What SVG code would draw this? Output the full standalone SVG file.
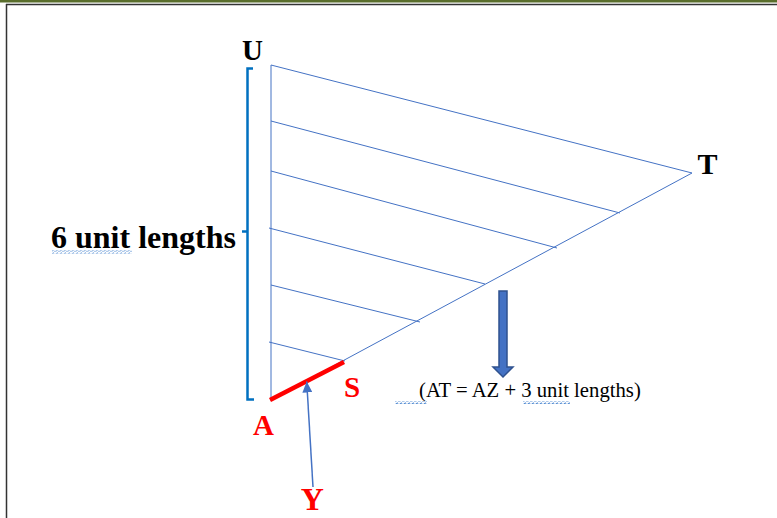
<svg xmlns="http://www.w3.org/2000/svg" width="777" height="518" viewBox="0 0 777 518">
<style>
.thin{stroke:#4472C4;stroke-width:1;fill:none}
.lbl{font-family:"Liberation Serif","Times New Roman",serif;font-weight:bold}
.blk{fill:#000}
.red{fill:#FF0000}
.note{font-family:"Liberation Serif","Times New Roman",serif;font-size:20.7px;fill:#000}
</style>
<defs>
<pattern id="wave" width="4" height="3" patternUnits="userSpaceOnUse">
<path d="M0 2.5 Q1 -0.5 2 1.5 T4 1.5" stroke="#4A86D0" stroke-width="1" fill="none"/>
</pattern>
<marker id="head" markerWidth="11" markerHeight="10" refX="11" refY="5" orient="auto" markerUnits="userSpaceOnUse">
<path d="M0 0 L11 5 L0 10 Z" fill="#4472C4"/>
</marker>
</defs>
<rect width="777" height="518" fill="#fff"/>
<g id="frame">
<rect x="0" y="0" width="777" height="2.5" fill="#5A6E2C"/>
<line x1="6" y1="4.5" x2="777" y2="4.5" stroke="#333" stroke-width="1.5"/>
<line x1="6.5" y1="4" x2="6.5" y2="518" stroke="#333" stroke-width="1.5"/>
</g>
<g id="connectors">
<line class="thin" x1="271" y1="65" x2="271" y2="400"/>
<line class="thin" x1="271" y1="65" x2="692" y2="173"/>
<line class="thin" x1="270" y1="400" x2="692" y2="173"/>
<line class="thin" x1="271" y1="121" x2="620" y2="213"/>
<line class="thin" x1="271" y1="171" x2="557" y2="248"/>
<line class="thin" x1="269" y1="228" x2="485" y2="284"/>
<line class="thin" x1="271" y1="285" x2="420" y2="322"/>
<line class="thin" x1="269" y1="342" x2="345" y2="361"/>
<line x1="270" y1="400" x2="344" y2="362" stroke="#FF0000" stroke-width="4.5" stroke-linecap="butt"/>
<line x1="313" y1="487" x2="306.7" y2="381.5" stroke="#4472C4" stroke-width="1.5" marker-end="url(#head)"/>
<polygon points="499,291 507,291 507,367 513,367 503,377 493,367 499,367" fill="#4472C4" stroke="#2F528F" stroke-width="1.5"/>
<path d="M253 68.5 H247.5 V231.5 H242 M247.5 231.5 V399.5 H254" stroke="#0070C0" stroke-width="2.5" fill="none"/>
</g>
<g id="U"><text class="lbl blk" x="252.5" y="60" font-size="29" text-anchor="middle">U</text></g>
<g id="T"><text class="lbl blk" x="707.5" y="174" font-size="30" text-anchor="middle">T</text></g>
<g id="A"><text class="lbl red" x="263.5" y="435" font-size="29" text-anchor="middle">A</text></g>
<g id="S"><text class="lbl red" x="352" y="397" font-size="29" text-anchor="middle">S</text></g>
<g id="Y"><text class="lbl red" x="312.3" y="510" font-size="32" text-anchor="middle">Y</text></g>
<g id="six-units">
<text class="lbl blk" x="51" y="248" font-size="32">6 unit lengths</text>
<rect x="52" y="250.5" width="80" height="3" fill="url(#wave)"/>
</g>
<g id="note">
<text class="note" x="419" y="397">(AT = AZ + 3 unit lengths)</text>
<rect x="395" y="401" width="32" height="3" fill="url(#wave)"/>
<rect x="523" y="401" width="47" height="3" fill="url(#wave)"/>
</g>
</svg>
